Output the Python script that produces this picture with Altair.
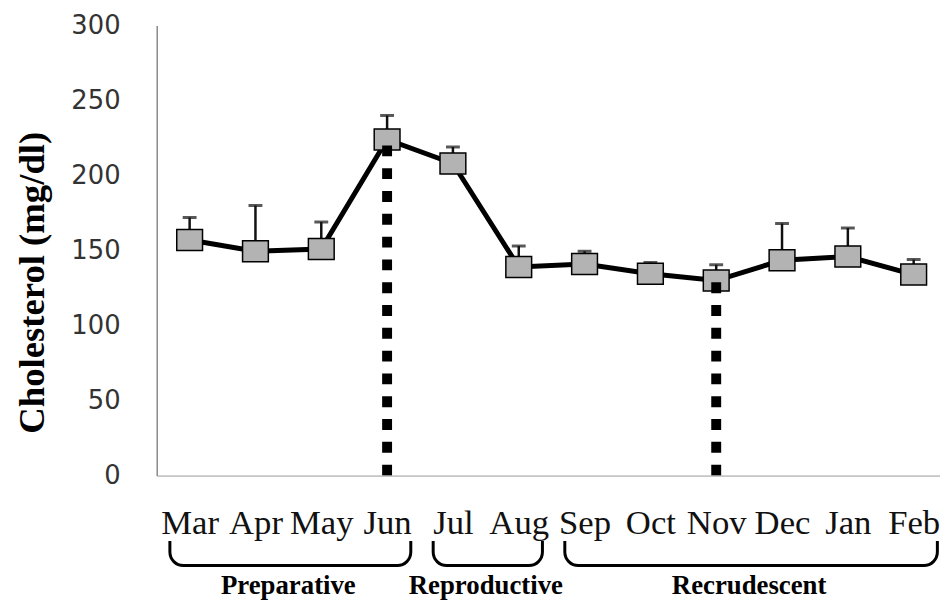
import altair as alt
import pandas as pd

months = ["Mar", "Apr", "May", "Jun", "Jul", "Aug", "Sep", "Oct", "Nov", "Dec", "Jan", "Feb"]
chol_mean = [157, 149.5, 151, 224, 208, 139, 141, 134.5, 130, 143.5, 146, 134]
chol_upper = [172, 180, 169, 240, 219, 153, 149.5, 142, 140.5, 168, 165, 144]
phase_names = ["Preparative", "Reproductive", "Recrudescent"]
phase_first = ["Mar", "Jul", "Sep"]
phase_last = ["Jun", "Aug", "Feb"]
marked_months = ["Jun", "Nov"]
y_ticks = [0, 50, 100, 150, 200, 250, 300]

# brace / label placement below the axis (in y units)
BRACE_TOP, BRACE_BOTTOM, LABEL_Y = -42, -60, -79

df = pd.DataFrame({
    "idx": list(range(len(months))),
    "month": months,
    "mean": chol_mean,
    "upper": chol_upper,
})
df["zero"] = 0
ph = pd.DataFrame({
    "phase": phase_names,
    "start": [months.index(m) for m in phase_first],
    "end": [months.index(m) for m in phase_last],
})
ph["mid"] = (ph["start"] + ph["end"]) / 2
ph["left"] = ph["start"] - 0.3
ph["right"] = ph["end"] + 0.36
ph["top"] = BRACE_TOP
ph["bottom"] = BRACE_BOTTOM
ph["ly"] = LABEL_Y
mk = df[df["month"].isin(marked_months)]

xs = alt.Scale(domain=[-0.5, 11.4], nice=False, zero=False)
ys = alt.Scale(domain=[0, 300], nice=False, zero=True)
label_expr = "[" + ",".join(f"'{m}'" for m in months) + "][datum.value]"

xaxis = alt.Axis(values=list(range(len(months))), labelExpr=label_expr, title=None,
                 ticks=False, grid=False, labelOverlap=False, labelFlush=False,
                 labelFont="Liberation Serif", labelFontSize=35, labelColor="#111",
                 labelBaseline="alphabetic", labelPadding=58,
                 domainColor="#999", domainWidth=1, zindex=1)
yaxis = alt.Axis(values=y_ticks, title="Cholesterol (mg/dl)", ticks=False, grid=False,
                 labelOverlap=False, labelFlush=False,
                 labelFont="DejaVu Sans", labelFontSize=26, labelColor="#333",
                 labelPadding=37, domainColor="#8a8a8a", domainWidth=1.5,
                 titleFont="Liberation Serif", titleFontWeight="bold", titleFontSize=37,
                 titleColor="black", titleAngle=270, titleX=-125, titleY=259,
                 titleAlign="center", titleBaseline="middle", zindex=1)


def X(f):
    return alt.X(f, type="quantitative", scale=xs, axis=xaxis)


def Y(f):
    return alt.Y(f, type="quantitative", scale=ys, axis=yaxis)


line = alt.Chart(df).mark_line(color="black", strokeWidth=5).encode(x=X("idx"), y=Y("mean"))
stems = alt.Chart(df).mark_rule(color="#111", strokeWidth=2.5).encode(
    x=X("idx"), y=Y("mean"), y2=alt.Y2("upper"))
caps = alt.Chart(df).mark_tick(orient="horizontal", color="#111", size=14, thickness=3).encode(
    x=X("idx"), y=Y("upper"))
markers = alt.Chart(df).mark_point(
    shape="M-1,-0.82L1,-0.82L1,0.82L-1,0.82Z", size=676, fill="#b3b3b3", stroke="black",
    strokeWidth=1.5, fillOpacity=1, strokeOpacity=1, opacity=1).encode(x=X("idx"), y=Y("mean"))
dots = alt.Chart(mk).mark_rule(color="black", strokeWidth=10, strokeDash=[11, 12]).encode(
    x=X("idx"), y=Y("zero"), y2=alt.Y2("mean"))
braces = alt.Chart(ph).mark_rect(fillOpacity=0, stroke="black", strokeWidth=3,
                                 cornerRadiusBottomLeft=15, cornerRadiusBottomRight=15).encode(
    x=X("left"), x2=alt.X2("right"), y=Y("top"), y2=alt.Y2("bottom"))
cover = alt.Chart(ph).mark_rule(color="white", strokeWidth=5, strokeCap="square").encode(
    x=X("left"), x2=alt.X2("right"), y=Y("top"))
phase_text = alt.Chart(ph).mark_text(font="Liberation Serif", fontWeight="bold", fontSize=27,
                                     color="black", baseline="alphabetic", align="center").encode(
    x=X("mid"), y=Y("ly"), text="phase:N")

chart = alt.layer(line, stems, caps, markers, dots, braces, cover, phase_text).properties(
    width=790, height=454,
    padding={"left": 150, "top": 15, "right": 0, "bottom": 135},
    autosize=alt.AutoSizeParams(type="none"),
    background="white",
).configure_view(strokeWidth=0)

chart.save("out.html", embed_options={"renderer": "svg", "actions": False})
